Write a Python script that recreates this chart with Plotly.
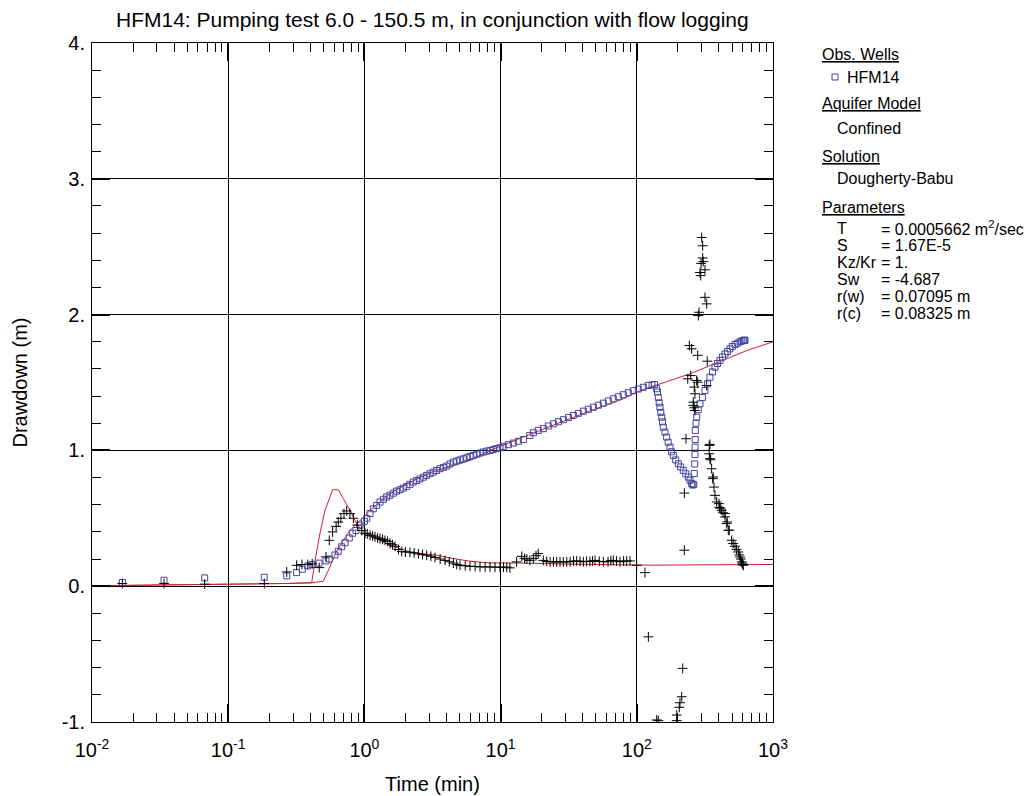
import plotly.graph_objects as go

# ---------------- data ----------------
obs_t = [0.0167, 0.0338, 0.0672, 0.184, 0.269, 0.318, 0.350, 0.384, 0.414, 0.464,
         0.522, 0.552, 0.608, 0.643, 0.681, 0.721, 0.774, 0.820, 0.867, 0.929,
         1.0, 1.04, 1.10, 1.162, 1.23, 1.302, 1.38, 1.458, 1.54, 1.63,
         1.72, 1.824, 1.93, 2.046, 2.16, 2.286, 2.42, 2.559, 2.71, 2.866,
         3.03, 3.206, 3.39, 3.59, 3.8, 4.02, 4.25, 4.50, 4.76, 5.03,
         5.33, 5.64, 5.97, 6.31, 6.68, 7.06, 7.47, 7.91, 8.37, 8.84,
         9.35, 9.9, 10.47, 11.4, 12.4, 13.5, 14.7, 16.4, 17.4, 18.9,
         20.6, 22.4, 24.4, 26.6, 28.9, 31.5, 34.2, 37.2, 40.5, 44.1,
         48.0, 52.2, 56.8, 61.8, 67.2, 73.1, 79.6, 86.6, 94.2, 102.5,
         111.6, 121.4, 129.4, 135.0, 140.0, 142.0, 143.9, 146.0, 148.0, 150.0,
         152.4, 154.5, 156.6, 161.0, 165.6, 170.0, 175.4, 180.0, 185.4, 193.0,
         201.7, 210.0, 219.4, 229.0, 238.8, 246.0, 252.9, 258.0, 262.0, 264.3,
         266.0, 267.3, 267.8, 268.5, 269.0, 272.0, 275.4, 283.0, 291.0, 303.0,
         316.7, 330.0, 344.4, 360.0, 375.0, 391.0, 408.0, 426.0, 444.6, 463.0,
         483.0, 503.0, 526.0, 550.0, 573.0, 590.0, 605.0, 615.0, 623.0]
obs_s = [0.027, 0.044, 0.061, 0.066, 0.076, 0.10, 0.125, 0.15, 0.16, 0.17,
         0.186, 0.20, 0.23, 0.257, 0.29, 0.32, 0.355, 0.39, 0.41, 0.45,
         0.478, 0.50, 0.535, 0.57, 0.595, 0.62, 0.64, 0.657, 0.67, 0.685,
         0.70, 0.71, 0.722, 0.735, 0.75, 0.767, 0.778, 0.79, 0.803, 0.816,
         0.828, 0.84, 0.852, 0.865, 0.875, 0.885, 0.90, 0.914, 0.922, 0.93,
         0.938, 0.946, 0.955, 0.963, 0.972, 0.98, 0.988, 0.995, 1.0, 1.006,
         1.013, 1.02, 1.03, 1.042, 1.054, 1.067, 1.08, 1.11, 1.13, 1.148,
         1.16, 1.18, 1.196, 1.211, 1.226, 1.242, 1.257, 1.273, 1.289, 1.303,
         1.318, 1.333, 1.348, 1.364, 1.38, 1.395, 1.41, 1.425, 1.44, 1.452,
         1.465, 1.478, 1.482, 1.485, 1.454, 1.43, 1.39, 1.35, 1.318, 1.28,
         1.245, 1.21, 1.171, 1.135, 1.098, 1.06, 1.024, 0.99, 0.963, 0.93,
         0.902, 0.878, 0.853, 0.828, 0.804, 0.78, 0.755, 0.745, 0.75, 0.83,
         0.90, 0.97, 1.024, 1.08, 1.147, 1.20, 1.245, 1.30, 1.343, 1.39,
         1.441, 1.49, 1.539, 1.578, 1.613, 1.64, 1.662, 1.688, 1.71, 1.728,
         1.748, 1.765, 1.78, 1.79, 1.80, 1.805, 1.81, 1.812, 1.81]

der_t = [0.0167, 0.0338, 0.0672, 0.184, 0.269, 0.318, 0.348, 0.384, 0.414, 0.466,
         0.522, 0.552, 0.584, 0.62, 0.643, 0.672, 0.708, 0.741, 0.783, 0.83,
         0.887, 0.955, 1.01, 1.05, 1.10, 1.15, 1.196, 1.25, 1.302, 1.36,
         1.416, 1.48, 1.541, 1.61, 1.678, 1.78, 1.88, 2.0, 2.16, 2.32,
         2.49, 2.67, 2.866, 3.08, 3.30, 3.6, 3.91, 4.2, 4.50, 4.76,
         5.03, 5.5, 5.96, 6.5, 7.06, 7.7, 8.36, 9.1, 9.9, 10.5,
         11.1, 11.7, 13.1, 14.3, 15.0, 15.6, 16.4, 17.4, 18.2, 18.9,
         20.6, 21.8, 23.1, 24.4, 25.8, 27.3, 28.9, 30.6, 32.4, 34.3,
         36.2, 38.3, 40.5, 42.8, 45.3, 47.3, 49.3, 53.0, 56.8, 61.5,
         64.5, 67.2, 71.0, 75.3, 80.0, 84.3, 89.1, 99.8, 114.8, 121.6,
         140.0, 143.9, 196.3, 196.5, 205.0, 207.5, 213.7, 217.3, 223.4, 223.4,
         229.8, 236.6, 243.2, 248.9, 252.9, 260.0, 260.0, 264.3, 264.3, 267.3,
         267.3, 275.0, 280.0, 280.0, 283.0, 286.4, 291.0, 294.5, 296.5, 299.4,
         304.6, 304.6, 307.5, 316.7, 316.7, 326.0, 326.0, 329.0, 340.4, 340.4,
         344.4, 344.4, 348.6, 354.4, 360.6, 364.0, 368.7, 375.0, 386.0, 401.6,
         404.0, 410.0, 420.0, 430.0, 444.6, 444.6, 457.0, 461.4, 469.7, 477.6,
         497.5, 510.0, 526.0, 540.0, 556.0, 565.0, 573.0, 580.0, 589.0, 595.0,
         600.0, 605.0]
der_s = [0.02, 0.02, 0.015, 0.02, 0.105, 0.154, 0.16, 0.16, 0.165, 0.137,
         0.216, 0.338, 0.40, 0.44, 0.473, 0.50, 0.535, 0.554, 0.535, 0.50,
         0.45, 0.41, 0.39, 0.385, 0.375, 0.37, 0.363, 0.355, 0.35, 0.345,
         0.338, 0.33, 0.315, 0.305, 0.294, 0.27, 0.255, 0.252, 0.25, 0.245,
         0.238, 0.233, 0.228, 0.22, 0.211, 0.20, 0.19, 0.18, 0.17, 0.16,
         0.154, 0.15, 0.147, 0.145, 0.142, 0.142, 0.142, 0.14, 0.14, 0.14,
         0.14, 0.135, 0.179, 0.22, 0.205, 0.20, 0.19, 0.205, 0.225, 0.24,
         0.19, 0.182, 0.179, 0.18, 0.179, 0.18, 0.179, 0.18, 0.18, 0.185,
         0.186, 0.183, 0.18, 0.183, 0.182, 0.185, 0.19, 0.183, 0.18, 0.18,
         0.188, 0.19, 0.185, 0.18, 0.185, 0.185, 0.186, 0.154, 0.10, -0.373,
         -0.985, -0.99, -0.99, -0.949, -0.892, -0.858, -0.814, -0.605, 0.265, 0.686,
         1.086, 1.527, 1.772, 1.551, 1.748, 1.331, 1.355, 1.466, 1.314, 1.294,
         1.417, 1.515, 1.70, 1.502, 1.993, 2.017, 2.31, 2.287, 2.377, 2.568,
         2.507, 2.417, 2.39, 2.33, 2.127, 2.079, 1.478, 1.657, 1.037, 0.975,
         1.044, 0.939, 0.931, 0.865, 0.792, 0.804, 0.73, 0.669, 0.62, 0.608,
         0.579, 0.575, 0.559, 0.54, 0.51, 0.535, 0.461, 0.473, 0.412, 0.412,
         0.338, 0.315, 0.294, 0.27, 0.252, 0.23, 0.215, 0.20, 0.179, 0.17,
         0.16, 0.154]

model_t = [0.01, 0.097, 0.269, 0.41, 0.499, 0.558, 0.612, 0.70, 0.783, 0.877,
           0.982, 1.10, 1.302, 1.541, 1.93, 2.559, 3.40, 4.50, 5.96, 8.36,
           14.7, 25.8, 45.3, 79.6, 99.8, 125.0, 246.0, 457.0, 641.0, 1000.0]
model_s = [0.003, 0.012, 0.02, 0.025, 0.037, 0.142, 0.24, 0.338, 0.41, 0.46,
           0.505, 0.56, 0.62, 0.68, 0.74, 0.80, 0.853, 0.89, 0.926, 1.0,
           1.10, 1.196, 1.29, 1.38, 1.43, 1.465, 1.564, 1.674, 1.735, 1.80]

mder_t = [0.01, 0.097, 0.269, 0.41, 0.434, 0.472, 0.514, 0.585, 0.643, 0.70,
          0.783, 0.877, 0.982, 1.10, 1.302, 1.541, 1.824, 2.16, 2.70, 3.40,
          4.25, 5.33, 5.96, 8.36, 13.1, 34.2, 125.0, 1000.0]
mder_s = [0.003, 0.012, 0.02, 0.025, 0.19, 0.39, 0.56, 0.71, 0.71, 0.645,
          0.56, 0.46, 0.40, 0.375, 0.338, 0.30, 0.277, 0.252, 0.24, 0.228,
          0.208, 0.19, 0.184, 0.171, 0.171, 0.162, 0.155, 0.16]

x_tickvals = [0.01, 0.1, 1, 10, 100, 1000]
x_ticktext = ["10<sup>-2</sup>", "10<sup>-1</sup>", "10<sup>0</sup>",
              "10<sup>1</sup>", "10<sup>2</sup>", "10<sup>3</sup>"]
y_tickvals = [-1, 0, 1, 2, 3, 4]
y_ticktext = ["-1.", "0.", "1.", "2.", "3.", "4."]

title_text = "HFM14: Pumping test 6.0 - 150.5 m, in conjunction with flow logging"
param_names = ["T", "S", "Kz/Kr", "Sw", "r(w)", "r(c)"]
param_values = ["= 0.0005662 m<sup>2</sup>/sec", "= 1.67E-5", "= 1.", "= -4.687",
                "= 0.07095 m", "= 0.08325 m"]

# ---------------- figure ----------------
FONT = "Liberation Sans, Arial, sans-serif"
RED = "#cc2233"
BLUE = "#44449e"

fig = go.Figure()
fig.add_trace(go.Scatter(x=model_t, y=model_s, mode="lines",
                         line=dict(color=RED, width=1), showlegend=False))
fig.add_trace(go.Scatter(x=mder_t, y=mder_s, mode="lines",
                         line=dict(color=RED, width=1), showlegend=False))
fig.add_trace(go.Scatter(x=obs_t, y=obs_s, mode="markers",
                         marker=dict(symbol="square-open", size=6, color=BLUE,
                                     line=dict(width=1, color=BLUE)),
                         showlegend=False))
fig.add_trace(go.Scatter(x=der_t, y=der_s, mode="markers",
                         marker=dict(symbol="cross-thin", size=7, color="black",
                                     line=dict(width=1, color="black")),
                         showlegend=False))

L, R, T, B = 92, 259, 43, 74
W, H = 1032, 796
pw, ph = W - L - R, H - T - B


def px(x):
    return (x - L) / pw


def py(y):
    return (H - B - y) / ph


axis_common = dict(showline=True, linecolor="black", linewidth=1, mirror="allticks",
                   showgrid=True, gridcolor="black", gridwidth=1,
                   ticks="inside", ticklen=18, tickwidth=2, tickcolor="black",
                   zeroline=False, automargin=False,
                   tickfont=dict(family=FONT, size=20, color="black"))

fig.update_xaxes(type="log", range=[-2, 3], tickvals=x_tickvals, ticktext=x_ticktext,
                 ticklabelstandoff=10,
                 minor=dict(ticks="inside", ticklen=9, tickwidth=1, tickcolor="black",
                            dtick="D1", showgrid=False),
                 title=dict(text="Time (min)", font=dict(family=FONT, size=20, color="black"),
                            standoff=16),
                 **axis_common)
fig.update_yaxes(range=[-1, 4], tickvals=y_tickvals, ticktext=y_ticktext,
                 ticklabelstandoff=2,
                 minor=dict(ticks="inside", ticklen=9, tickwidth=1, tickcolor="black",
                            dtick=0.2, showgrid=False),
                 title=dict(text="Drawdown (m)", font=dict(family=FONT, size=20, color="black"),
                            standoff=28),
                 **axis_common)

annotations = []
annotations.append(dict(text=title_text, xref="paper", yref="paper", x=0.5, y=py(20),
                        xanchor="center", yanchor="middle", showarrow=False,
                        font=dict(family=FONT, size=21, color="black")))

legend_font = dict(family=FONT, size=16, color="black")
side_items = [
    ("<u>Obs. Wells</u>", 820, 54),
    ("HFM14", 845, 77),
    ("<u>Aquifer Model</u>", 820, 103),
    ("Confined", 835, 128),
    ("<u>Solution</u>", 820, 157),
    ("Dougherty-Babu", 835, 179),
    ("<u>Parameters</u>", 820, 207),
]
for txt, x, y in side_items:
    annotations.append(dict(text=txt, xref="paper", yref="paper", x=px(x), y=py(y),
                            xanchor="left", yanchor="middle", showarrow=False,
                            font=legend_font))
param_y = [228, 245, 262, 279, 296, 313]
for name, val, y in zip(param_names, param_values, param_y):
    annotations.append(dict(text=name, xref="paper", yref="paper", x=px(835), y=py(y),
                            xanchor="left", yanchor="middle", showarrow=False,
                            font=legend_font))
    annotations.append(dict(text=val, xref="paper", yref="paper", x=px(879), y=py(y),
                            xanchor="left", yanchor="middle", showarrow=False,
                            font=legend_font))

shapes = [dict(type="rect", xref="paper", yref="paper",
               x0=px(832), x1=px(838), y0=py(80), y1=py(74),
               line=dict(color=BLUE, width=1), fillcolor="rgba(0,0,0,0)")]

fig.update_layout(width=W, height=H, margin=dict(l=L, r=R, t=T, b=B),
                  paper_bgcolor="white", plot_bgcolor="white",
                  annotations=annotations, shapes=shapes,
                  font=dict(family=FONT, color="black"))

fig.write_html("out.html")
